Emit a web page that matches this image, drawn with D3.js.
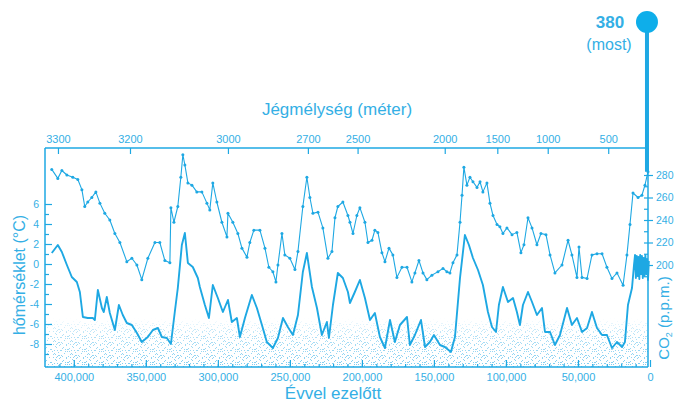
<!DOCTYPE html>
<html>
<head>
<meta charset="utf-8">
<script src="https://cdn.jsdelivr.net/npm/d3@7"></script>
<style>
body{margin:0;background:#fff;}
text{font-family:"Liberation Sans",Arial,sans-serif;fill:#34afe5;}
</style>
</head>
<body>
<script>
// DATA  [age in thousand years, value]
const co2Data = [[415.3,285],[411.1,277],[408.3,284],[404.8,280],[400.7,278],[397.2,276],[394.4,267],[392.4,252],[390.3,256],[387.5,260],[384.7,265],[381.9,255],[378.5,246],[375,240],[371.5,228],[368,220],[363.2,203],[359.7,206],[356.2,200],[352.8,187],[348.6,206],[343.7,220],[340.3,220],[336.8,204],[333.3,202],[332.6,251],[330.5,238],[327.8,252],[325.7,278],[324.3,298],[322.9,289],[320.8,273],[318,271],[314.6,265],[311.1,265],[307.6,255],[305.6,249],[303.5,273],[300.7,256],[297.2,238],[293.7,225],[293,246],[289.6,238],[286.1,228],[283.3,215],[279.8,207],[277.8,220],[275,231],[270.8,231],[267.3,215],[264.6,198],[261.8,194],[259.7,185],[258.3,200],[255.5,228],[253.5,209],[250,206],[246.5,196],[244.4,212],[241,252],[238.2,278],[236.1,260],[234,246],[230.5,247],[227.1,233],[223.6,206],[220.8,212],[218.7,242],[216.7,252],[213.2,256],[209.7,244],[208.3,238],[206.2,228],[203.5,244],[201.4,251],[197.9,238],[195.8,220],[193,222],[191,231],[188.9,229],[186.1,211],[184,203],[181.2,215],[178.5,209],[175.7,189],[172.2,198],[168.7,198],[165.3,185],[163.2,193],[160.4,204],[157.6,193],[154.9,187],[151.4,191],[147.2,194],[143.7,197],[141,194],[138.9,193],[136.8,202],[134,209],[131.9,238],[130.5,262],[129.2,287],[127.1,271],[125,278],[122.9,274],[120.1,269],[118,274],[116,265],[113.2,273],[111.1,255],[109,244],[106.2,236],[104.2,234],[102.1,228],[99.3,233],[95.8,227],[92.4,229],[89.6,211],[87.5,218],[84.7,242],[81.9,233],[78.5,218],[75.7,228],[72.2,227],[69.4,209],[66,193],[61.1,200],[56.9,222],[54.2,209],[50.7,189],[49.3,216],[47.2,189],[43.7,188],[40.3,209],[36.8,210],[33.3,210],[29.9,198],[26.4,188],[22.9,193],[18.7,182],[16,209],[13.9,236],[11.8,264],[8.3,260],[5.6,262],[3.5,271],[1.4,283]];

const tempData = [[415.3,1.1],[411.1,1.9],[408.3,1.2],[404.8,-0.1],[401.4,-1.3],[397.9,-1.8],[395.8,-2.8],[393.7,-5.3],[390.3,-5.4],[386.8,-5.4],[385.4,-5.6],[383.3,-2.6],[380.5,-4.4],[379.2,-4.8],[377.1,-3.3],[375,-4.9],[371.5,-6.6],[368.7,-4.1],[366,-5.1],[363.2,-5.9],[359.7,-6.1],[356.2,-6.9],[352.8,-7.8],[348.6,-7.3],[345.1,-6.6],[341.6,-6.4],[338.9,-7.3],[335.4,-7.4],[332.6,-8.0],[329.9,-4.8],[327.8,-2.4],[325,1.9],[322.9,3.1],[320.8,0.1],[317.4,-0.3],[313.9,-1.4],[312.5,-2.3],[309,-4.1],[306.2,-5.4],[303.5,-2.1],[300,-3.4],[296.5,-4.8],[293,-3.6],[290.3,-5.8],[286.8,-5.4],[284.7,-7.3],[281.2,-5.4],[276.4,-3.1],[272.9,-4.4],[269.4,-6.1],[266,-7.8],[261.8,-8.4],[258.3,-7.4],[254.8,-5.4],[251.4,-6.3],[247.9,-7.1],[244.4,-5.1],[241,-0.8],[238.2,1.1],[234.7,-2.3],[231.2,-4.4],[227.8,-7.1],[224.3,-5.8],[222.9,-7.4],[220.1,-4.1],[216.7,-0.9],[213.2,-1.4],[209.7,-2.8],[208.3,-3.9],[204.9,-2.8],[201.4,-1.6],[197.9,-3.4],[194.4,-5.6],[191,-4.9],[187.5,-7.3],[184,-8.4],[180.5,-5.6],[177.1,-7.8],[173.6,-6.1],[168.7,-5.3],[166.7,-8.1],[163.2,-7.1],[159,-5.6],[156.2,-8.3],[152.8,-7.8],[150,-7.1],[145.8,-8.1],[142.4,-8.3],[138.2,-8.8],[135.4,-7.3],[131.9,-1.4],[128.5,2.9],[125.7,1.9],[122.9,0.6],[119.4,-0.6],[116,-2.1],[112.5,-4.8],[109.7,-6.3],[106.9,-6.8],[104.9,-4.1],[102.1,-2.3],[98.6,-3.8],[95.1,-3.4],[92.4,-4.8],[90.3,-6.1],[88.2,-4.1],[84.7,-2.8],[81.9,-3.8],[78.5,-5.1],[75,-4.4],[72.9,-6.8],[69.4,-6.8],[66,-8.1],[62.5,-7.1],[57.6,-4.4],[54.2,-6.1],[50.7,-5.4],[47.2,-6.8],[43.7,-6.4],[40.3,-4.8],[36.8,-6.4],[33.3,-7.1],[29.9,-7.1],[26.4,-8.4],[22.9,-7.8],[19.4,-8.3],[17.4,-7.8],[15.3,-4.1],[12.5,-2.4],[11.1,-0.1],[10.4,0.9],[9.8,-1.4],[9.2,0.8],[8.6,-1.2],[8.0,0.7],[7.4,-1.5],[6.8,0.9],[6.2,-1.0],[5.6,0.8],[5.0,-1.4],[4.4,0.6],[3.8,-1.2],[3.2,0.9],[2.6,-1.0],[2.0,0.5],[1.4,-1.6],[0.8,0.3]];

const modernCO2 = 380;
const ageTicks = [400000,350000,300000,250000,200000,150000,100000,50000,0];
const tempTicks = [-8,-6,-4,-2,0,2,4,6];
const co2Ticks = [200,220,240,260,280];
const depthTicks = [3300,3200,3000,2700,2500,2000,1500,1000,500];
const depthTickAges = [411,361,293,237.5,203,142.5,106,71,29];

//USEFUL VARIABLES
const svgwidth = 675;
const svgheight = 403;
const frame = {left: 45, right: 648, top: 148, bottom: 367};
const blue = "#1ea8e3";

const svg = d3.select("body").append("svg")
    .attr("width", svgwidth)
    .attr("height", svgheight);

// SCALES
const X = d3.scaleLinear().domain([420, 0]).range([45, 650]);
const YT = d3.scaleLinear().domain([-8, 6]).range([344, 204]);
const YC = d3.scaleLinear().domain([200, 280]).range([265, 175]);

// STIPPLE TEXTURE AT THE BOTTOM (fixed dot tile)
const defs = svg.append("defs");
const pat = defs.append("pattern").attr("id", "stip")
    .attr("width", 17).attr("height", 13).attr("patternUnits", "userSpaceOnUse");
[[1,0],[7,1],[13,2],[4,3],[10,4],[15,6],[2,6],[8,7],[5,9],[12,9],[0,11],[16,11],[9,12],[14,0],[6,5],[11,10],[3,12]].forEach(p => {
    pat.append("rect").attr("x", p[0]).attr("y", p[1])
        .attr("width", 1).attr("height", 1).attr("fill", "#5fc0ec");
});
const grad = defs.append("linearGradient").attr("id", "fade")
    .attr("x1", 0).attr("y1", 0).attr("x2", 0).attr("y2", 1);
grad.append("stop").attr("offset", "0").attr("stop-color", "#fff").attr("stop-opacity", 0);
grad.append("stop").attr("offset", "0.35").attr("stop-color", "#fff").attr("stop-opacity", 0.6);
grad.append("stop").attr("offset", "1").attr("stop-color", "#fff").attr("stop-opacity", 1);
defs.append("mask").attr("id", "fademask")
    .append("rect").attr("x", frame.left).attr("y", 318)
    .attr("width", frame.right - frame.left).attr("height", frame.bottom - 318)
    .attr("fill", "url(#fade)");
const stipG = svg.append("g").attr("mask", "url(#fademask)").attr("opacity", 0.8);
stipG.append("rect")
    .attr("x", frame.left).attr("y", 318)
    .attr("width", frame.right - frame.left).attr("height", frame.bottom - 318)
    .attr("fill", "url(#stip)");
stipG.append("rect")
    .attr("x", frame.left).attr("y", 318)
    .attr("width", frame.right - frame.left).attr("height", frame.bottom - 318)
    .attr("fill", "url(#stip)").attr("transform", "translate(8,6)");

// FRAME
const fr = svg.append("g").attr("stroke", blue).attr("stroke-width", 1.5);
fr.append("line").attr("x1", frame.left).attr("x2", frame.left).attr("y1", frame.top).attr("y2", frame.bottom);
fr.append("line").attr("x1", frame.right).attr("x2", frame.right).attr("y1", frame.top).attr("y2", frame.bottom);
fr.append("line").attr("x1", frame.left).attr("x2", frame.right).attr("y1", frame.top).attr("y2", frame.top);
fr.append("line").attr("x1", frame.left).attr("x2", frame.right).attr("y1", frame.bottom).attr("y2", frame.bottom);

// AXIS HELPER
const styleAxis = (g, size) => {
    g.select(".domain").remove();
    g.selectAll(".tick line").attr("stroke", blue).attr("stroke-width", 1.2);
    g.selectAll(".tick text").attr("fill", "#34afe5").attr("font-size", size)
        .attr("font-family", "'Liberation Sans', Arial, sans-serif");
};

// LEFT (TEMPERATURE)
svg.append("g").attr("transform", `translate(${frame.left},0)`)
    .call(d3.axisLeft(YT).tickValues(d3.range(-9, 7, 2)).tickSize(-4).tickFormat(""))
    .call(g => styleAxis(g, 10));
svg.append("g").attr("transform", `translate(${frame.left},0)`)
    .call(d3.axisLeft(YT).tickValues(tempTicks).tickSize(-7).tickPadding(6).tickFormat(d => String(d)))
    .call(g => styleAxis(g, 10.5));

// RIGHT (CO2)
svg.append("g").attr("transform", `translate(${frame.right},0)`)
    .call(d3.axisRight(YC).tickValues(d3.range(190, 290, 10)).tickSize(-4).tickFormat(""))
    .call(g => styleAxis(g, 10));
svg.append("g").attr("transform", `translate(${frame.right},0)`)
    .call(d3.axisRight(YC).tickValues(co2Ticks).tickSize(5).tickPadding(3))
    .call(g => styleAxis(g, 10.5));

// BOTTOM (AGE)
svg.append("g").attr("transform", `translate(0,${frame.bottom})`)
    .call(d3.axisBottom(X).tickValues(d3.range(10, 420, 10)).tickSize(-3).tickFormat(""))
    .call(g => styleAxis(g, 10));
svg.append("g").attr("transform", `translate(0,${frame.bottom})`)
    .call(d3.axisBottom(X).tickValues(ageTicks.map(d => d / 1000)).tickSize(-7).tickPadding(6)
        .tickFormat(d => d3.format(",")(d * 1000)))
    .call(g => styleAxis(g, 11));

// TOP (DEPTH)
svg.append("g").attr("transform", `translate(0,${frame.top})`)
    .call(d3.axisTop(X).tickValues(depthTickAges).tickSize(-6).tickPadding(5)
        .tickFormat((d, i) => depthTicks[i]))
    .call(g => styleAxis(g, 11));

// LINES
const co2Line = d3.line().x(d => X(d[0])).y(d => YC(d[1]));
const tempLine = d3.line().x(d => X(d[0])).y(d => YT(d[1]));

svg.append("path").datum(tempData)
    .attr("d", tempLine).attr("fill", "none")
    .attr("stroke", blue).attr("stroke-width", 1.9).attr("stroke-linejoin", "round");

svg.append("path").datum(co2Data)
    .attr("d", co2Line).attr("fill", "none")
    .attr("stroke", blue).attr("stroke-width", 1.1).attr("stroke-linejoin", "round");
svg.append("g").selectAll("circle").data(co2Data).enter()
    .append("circle")
    .attr("cx", d => X(d[0])).attr("cy", d => YC(d[1]))
    .attr("r", 1.5).attr("fill", blue);

// MODERN CO2 MARKER (broken scale above the frame)
const last = co2Data[co2Data.length - 1];
const topY = 22;
svg.append("line")
    .attr("x1", X(last[0]) - 1).attr("x2", X(last[0]) - 1)
    .attr("y1", YC(last[1])).attr("y2", topY)
    .attr("stroke", blue).attr("stroke-width", 4);
svg.append("circle").attr("cx", X(last[0]) - 1).attr("cy", topY).attr("r", 11).attr("fill", "#0eaeea");
svg.append("text").attr("x", 610).attr("y", 28).attr("text-anchor", "middle")
    .attr("font-size", 17).attr("font-weight", "bold").attr("fill", "#22a9e2")
    .text(modernCO2);
svg.append("text").attr("x", 609).attr("y", 50).attr("text-anchor", "middle")
    .attr("font-size", 16).text("(most)");

// TITLES
svg.append("text").attr("x", 337).attr("y", 115).attr("text-anchor", "middle")
    .attr("font-size", 17).text("Jégmélység (méter)");
svg.append("text").attr("x", 333).attr("y", 399).attr("text-anchor", "middle")
    .attr("font-size", 17).text("Évvel ezelőtt");
svg.append("text").attr("transform", "translate(25,275) rotate(-90)")
    .attr("text-anchor", "middle").attr("font-size", 16).text("hőmérséklet (°C)");
const co2Label = svg.append("text").attr("transform", "translate(669,318) rotate(-90)")
    .attr("text-anchor", "middle").attr("font-size", 15);
co2Label.append("tspan").text("CO");
co2Label.append("tspan").attr("font-size", 9).attr("dy", 3).text("2");
co2Label.append("tspan").attr("dy", -3).text(" (p.p.m.)");
</script>
</body>
</html>
